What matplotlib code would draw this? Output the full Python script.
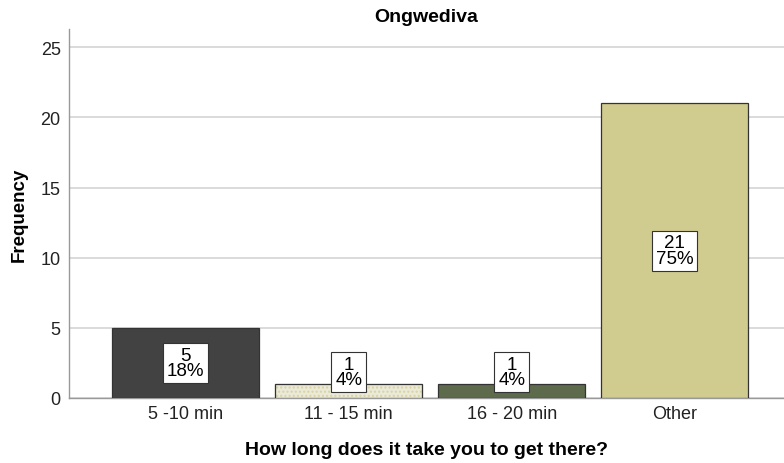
import matplotlib.pyplot as plt

plt.rcParams['font.family'] = ['Liberation Sans', 'DejaVu Sans']

categories = ['5 -10 min', '11 - 15 min', '16 - 20 min', 'Other']
counts = [5, 1, 1, 21]
percents = [18, 4, 4, 75]
colors = ['#424242', '#ebead8', '#5d6a4c', '#d0cb8e']
hatches = [None, '....', None, None]

fig = plt.figure(figsize=(7.84, 4.64), dpi=100)
ax = fig.add_axes([69 / 784, 1 - 399 / 464, 1 - 69 / 784, (399 - 30) / 464])

x = range(len(categories))
bars = ax.bar(x, counts, width=0.9, color=colors, edgecolor='#333333',
              linewidth=0.9, zorder=3)
for b, h in zip(bars, hatches):
    if h:
        b.set_hatch(h)
        b.set_edgecolor('#d8d3a0')
        # redraw outline in dark grey over the hatch
        ax.bar(b.get_x() + b.get_width() / 2, b.get_height(), width=b.get_width(),
               fill=False, edgecolor='#333333', linewidth=0.9, zorder=4)

# count / percent boxes
for i, (c, p) in enumerate(zip(counts, percents)):
    ax.text(i, max(c / 2, 1.85), f'{c}\n{p}%', ha='center', va='center',
            fontsize=13.5, linespacing=0.9, zorder=5,
            bbox=dict(boxstyle='square,pad=0.2', facecolor='white',
                      edgecolor='#333333', linewidth=0.8))

ax.set_xlim(-0.715, 3.67)
ax.set_ylim(0, 26.3)
ax.set_yticks([0, 5, 10, 15, 20, 25])
ax.set_xticks(list(x))
ax.set_xticklabels(categories)
ax.tick_params(axis='both', length=0, labelsize=13, colors='#222222', pad=6)
ax.tick_params(axis='x', pad=5)
ax.yaxis.grid(True, color='#d4d4d4', linewidth=1.2, zorder=0)

for s in ['top', 'right']:
    ax.spines[s].set_visible(False)
for s in ['left', 'bottom']:
    ax.spines[s].set_color('#999999')
    ax.spines[s].set_linewidth(1.0)

ax.set_title('Ongwediva', fontsize=14, fontweight='bold', pad=6)
ax.set_xlabel('How long does it take you to get there?', fontsize=14,
              fontweight='bold', labelpad=14)
ax.set_ylabel('Frequency', fontsize=13.5, fontweight='bold', labelpad=9)

fig.savefig('out.png', dpi=100)
